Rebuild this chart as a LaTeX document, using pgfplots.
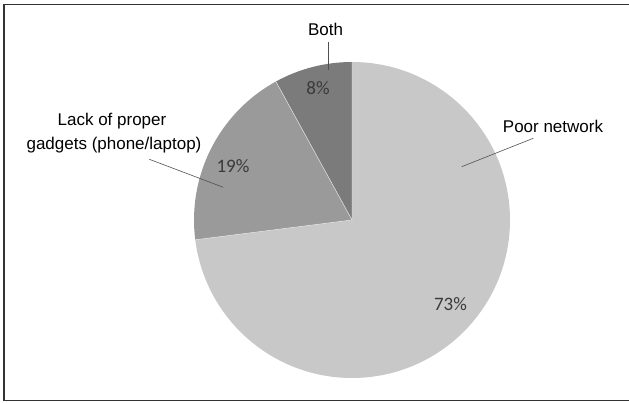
\documentclass[border=0pt]{standalone}
\usepackage{fontspec}
\setmainfont{Liberation Sans}
\newfontfamily\pctfont{Carlito}
\usepackage{pgfplots}
\usepackage{pgfplotstable}
\pgfplotsset{compat=1.18}

\definecolor{sliceA}{HTML}{C8C8C8}
\definecolor{sliceB}{HTML}{9A9A9A}
\definecolor{sliceC}{HTML}{7B7B7B}
\definecolor{pcttext}{HTML}{3A3A3A}
\definecolor{leader}{HTML}{505050}

% shares of respondents, in percent, clockwise from 12 o'clock
\pgfplotstableread{
share
73
19
8
}\piedata

\pgfplotstablegetelem{0}{share}\of\piedata \let\pcA\pgfplotsretval
\pgfplotstablegetelem{1}{share}\of\piedata \let\pcB\pgfplotsretval
\pgfplotstablegetelem{2}{share}\of\piedata \let\pcC\pgfplotsretval

\begin{document}
\begin{tikzpicture}
\begin{axis}[
  scale only axis,
  width=629pt, height=403pt,
  xmin=0, xmax=629, ymin=0, ymax=403,
  hide axis, clip=false,
]
  \coordinate (bl) at (axis cs:0,0);
  \coordinate (tr) at (axis cs:629,403);

  % outer frame
  \draw[black!80, line width=1.6pt] (axis cs:632,398.4) -- (axis cs:3.8,398.4)
        -- (axis cs:3.8,2.5) -- (axis cs:632,2.5);

  % pie slices (centre 352,183; radius 158)
  \pgfmathsetmacro\angA{90-3.6*\pcA}
  \pgfmathsetmacro\angB{\angA-3.6*\pcB}
  \pgfmathsetmacro\angC{\angB-3.6*\pcC}
  \fill[sliceA] (axis cs:352,183) -- ++(90:158pt)
        arc[start angle=90, end angle=\angA, radius=158pt] -- cycle;
  \fill[sliceB] (axis cs:352,183) -- ++(\angA:158pt)
        arc[start angle=\angA, end angle=\angB, radius=158pt] -- cycle;
  \fill[sliceC] (axis cs:352,183) -- ++(\angB:158pt)
        arc[start angle=\angB, end angle=\angC, radius=158pt] -- cycle;
  \draw[white!80!gray, line width=0.5pt]
        (axis cs:352,183) -- ++(90:158pt)
        (axis cs:352,183) -- ++(\angA:158pt)
        (axis cs:352,183) -- ++(\angB:158pt);

  % percentage labels
  \node[anchor=base, text=pcttext, font=\pctfont\fontsize{19}{22}\selectfont]
        at (axis cs:450.5,92) {\pcA\%};
  \node[anchor=base, text=pcttext, font=\pctfont\fontsize{19}{22}\selectfont]
        at (axis cs:233,230.7) {\pcB\%};
  \node[anchor=base, text=pcttext, font=\pctfont\fontsize{19}{22}\selectfont]
        at (axis cs:318,308) {\pcC\%};

  % category labels and leader lines
  \node[anchor=base, font=\fontsize{17}{20}\selectfont] at (axis cs:325.5,367) {Both};
  \draw[leader, line width=0.6pt] (axis cs:328,361) -- (axis cs:328,333);

  \node[anchor=base, font=\fontsize{17}{20}\selectfont] at (axis cs:553,270.7) {Poor network};
  \draw[leader, line width=0.6pt] (axis cs:533.3,264.7) -- (axis cs:461.7,236.3);

  \node[anchor=base, font=\fontsize{17}{20}\selectfont] at (axis cs:112,277) {Lack of proper};
  \node[anchor=base, font=\fontsize{17}{20}\selectfont] at (axis cs:114,253) {gadgets (phone/laptop)};
  \draw[leader, line width=0.6pt] (axis cs:149.3,243.7) -- (axis cs:223.3,215.7);
\end{axis}
\pgfresetboundingbox
\useasboundingbox (bl) rectangle (tr);
\end{tikzpicture}
\end{document}
